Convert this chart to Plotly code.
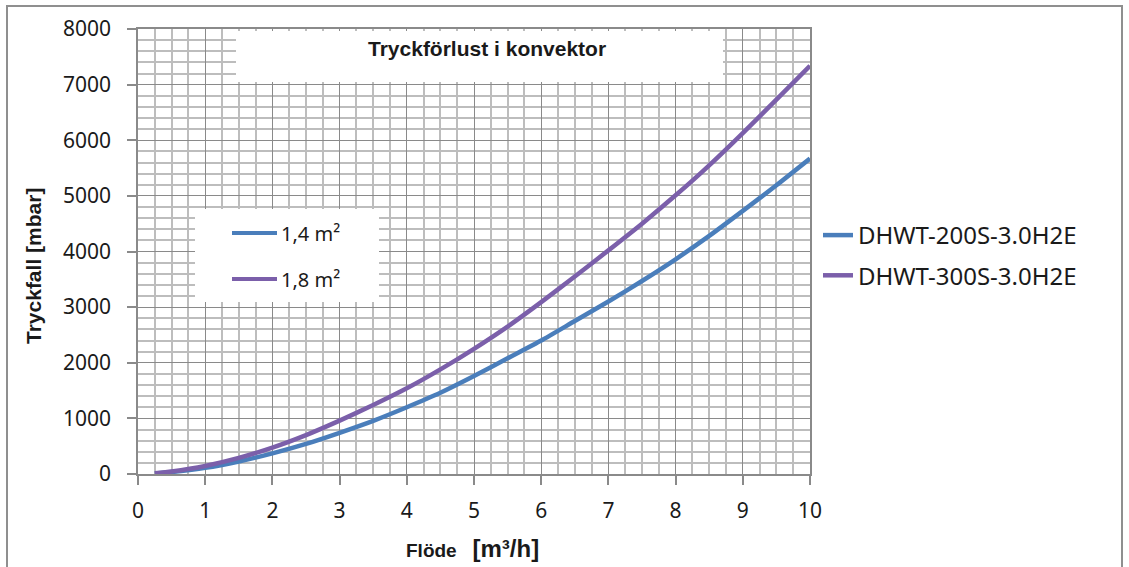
import plotly.graph_objects as go

# ---- data ----
flow = [0.25, 0.5, 1, 1.5, 2, 2.5, 3, 3.5, 4, 4.5, 5, 5.5, 6, 6.5, 7, 7.5, 8, 8.5, 9, 9.5, 10]
dp_200 = [10, 35, 110, 225, 370, 540, 740, 955, 1200, 1460, 1760, 2080, 2400, 2750, 3100,
          3470, 3860, 4280, 4730, 5190, 5670]
dp_300 = [12, 45, 145, 290, 475, 700, 960, 1240, 1540, 1880, 2250, 2650, 3090, 3550, 4020,
          4500, 5010, 5550, 6130, 6730, 7340]
series_names = ["DHWT-200S-3.0H2E", "DHWT-300S-3.0H2E"]
area_labels = ["1,4 m²", "1,8 m²"]
colors = ["#4a7ebb", "#7b5faa"]
title_text = "Tryckförlust i konvektor"
y_title = "Tryckfall [mbar]"

W, H = 1129, 567
L, R, T, B = 138, 810, 29, 474  # plot area in px


def px(x):
    return (x - L) / (R - L)


def py(y):
    return (B - y) / (B - T)


fig = go.Figure()
for name, ys, c in zip(series_names, [dp_200, dp_300], colors):
    fig.add_trace(go.Scatter(x=flow, y=ys, mode="lines", name=name,
                             line=dict(color=c, width=4.5, shape="spline", smoothing=0.6),
                             legendgroup=name))

tick_font = dict(family="Noto Sans", size=21, color="#1a1a1a")
major = "#8a8a8a"
minor = "#bdbdbd"

fig.update_xaxes(range=[0, 10], dtick=1, tick0=0, showgrid=True, gridcolor=major, gridwidth=1.3,
                 minor=dict(dtick=0.25, showgrid=True, gridcolor=minor, gridwidth=1.5),
                 showline=True, linecolor=major, linewidth=1.5, mirror=True,
                 ticks="outside", ticklen=9, tickcolor=major, tickwidth=1.5,
                 ticklabelstandoff=8,
                 tickfont=tick_font, zeroline=False)
fig.update_yaxes(range=[0, 8000], dtick=1000, tick0=0, showgrid=True, gridcolor=major, gridwidth=1.3,
                 minor=dict(dtick=200, showgrid=True, gridcolor=minor, gridwidth=1.5),
                 showline=True, linecolor=major, linewidth=1.5, mirror=True,
                 ticks="outside", ticklen=9, tickcolor=major, tickwidth=1.5,
                 ticklabelstandoff=12,
                 tickfont=tick_font, zeroline=False)

shapes = [
    # title box
    dict(type="rect", xref="paper", yref="paper", x0=px(236), x1=px(723), y0=py(82), y1=py(31),
         fillcolor="white", line=dict(width=0), layer="above"),
    # inner legend box
    dict(type="rect", xref="paper", yref="paper", x0=px(195), x1=px(379), y0=py(302), y1=py(209),
         fillcolor="white", line=dict(width=0), layer="above"),
    # outer chart border
    dict(type="rect", xref="paper", yref="paper", x0=px(7), x1=px(1122), y0=py(575), y1=py(6),
         fillcolor="rgba(0,0,0,0)", line=dict(color="#8f8f8f", width=2), layer="above"),
]
# inner legend samples
for i, c in enumerate(colors):
    yy = [233, 279][i]
    shapes.append(dict(type="line", xref="paper", yref="paper", x0=px(232), x1=px(277),
                       y0=py(yy), y1=py(yy), line=dict(color=c, width=4), layer="above"))

annotations = [
    dict(text="<b>" + title_text + "</b>", xref="paper", yref="paper", x=px(487), y=py(48),
         showarrow=False, font=dict(family="Liberation Sans", size=21, color="#1a1a1a"),
         xanchor="center", yanchor="middle"),
    dict(text="<b>" + y_title + "</b>", xref="paper", yref="paper", x=px(33), y=py(266),
         textangle=-90, showarrow=False, font=dict(family="Liberation Sans", size=21, color="#1a1a1a"),
         xanchor="center", yanchor="middle"),
    dict(text="<b>Flöde</b>&nbsp;&nbsp;&nbsp;<b><span style='font-size:24px'>[m³/h]</span></b>",
         xref="paper", yref="paper", x=px(472), y=py(548), showarrow=False,
         font=dict(family="Liberation Sans", size=19, color="#1a1a1a"),
         xanchor="center", yanchor="middle"),
]
for i, lab in enumerate(area_labels):
    yy = [233, 279][i]
    annotations.append(dict(text=lab, xref="paper", yref="paper", x=px(279), y=py(yy),
                            showarrow=False, font=dict(family="Noto Sans", size=20, color="#1a1a1a"),
                            xanchor="left", yanchor="middle"))

fig.update_layout(
    width=W, height=H,
    margin=dict(l=L, r=W - R, t=T, b=H - B),
    paper_bgcolor="white", plot_bgcolor="white",
    showlegend=True,
    legend=dict(x=px(818), y=py(213), xanchor="left", yanchor="top",
                font=dict(family="Noto Sans", size=24, color="#1a1a1a"),
                tracegroupgap=6, bgcolor="rgba(0,0,0,0)"),
    shapes=shapes, annotations=annotations,
)

fig.write_html("out.html", config={"displayModeBar": False},
               post_script="document.body.style.margin='0';document.body.style.overflow='hidden';")
